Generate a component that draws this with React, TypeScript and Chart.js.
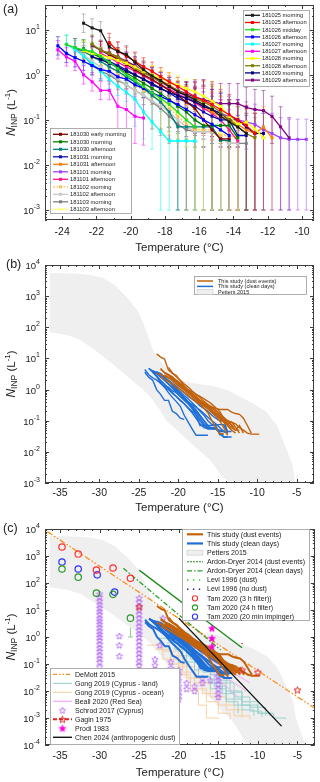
import React, { useEffect, useRef } from "react";
import { Chart, registerables } from "chart.js";
Chart.register(...registerables);

const FONT = "'Liberation Sans', Arial, Helvetica, sans-serif";
const INK = "#222222";

// ---------------- Panel (a) data ----------------
// temperature grid (°C) of the freezing spectra
const TEMP_GRID = [-24.25, -23.75, -23.25, -22.75, -22.25, -21.75, -21.25, -20.75, -20.25, -19.75, -19.25, -18.75, -18.25, -17.75, -17.25, -16.75, -16.25, -15.75, -15.25, -14.75, -14.25, -13.75, -13.25, -12.75, -12.25, -11.75, -11.25, -10.75, -10.25, -9.75];

// N_INP (L^-1); each list starts at TEMP_GRID[start]
const V_181025_MORNING = [14, 11, 9.5, 4.2, 3.3, 2.8, 1.9, 1.3, 0.95, 0.75, 0.55, 0.42, 0.35, 0.28, 0.22, 0.17, 0.12, 0.09, 0.07, 0.05];
const V_181025_AFTERNOON = [5.2, 3.4, 2.6, 2.0, 1.5, 1.2, 0.9, 0.7, 0.55, 0.42, 0.33, 0.27, 0.22, 0.17, 0.13, 0.1, 0.075, 0.05];
const V_181026_MIDDAY = [4.7, 4.0, 3.6, 3.3, 2.6, 1.9, 1.4, 1.0, 0.75, 0.55, 0.4, 0.3, 0.22, 0.15, 0.1, 0.07];
const V_181026_AFTERNOON = [4.4, 3.0, 2.4, 2.0, 1.6, 1.3, 1.2, 0.9, 0.8, 0.6, 0.5, 0.4, 0.33, 0.27, 0.22, 0.17, 0.13, 0.1, 0.08, 0.06, 0.045];
const V_181027_MORNING = [4.8, 3.6, 2.6, 1.8, 1.2, 0.8, 0.56, 0.41, 0.29, 0.15, 0.09, 0.055, 0.034, 0.034, 0.034, 0.034];
const V_181027_AFTERNOON = [3.6, 2.5, 2.0, 1.0, 0.7, 0.45, 0.45, 0.2, 0.17, 0.12, 0.11];
const V_181028_MORNING = [3.4, 3.0, 2.7, 2.4, 2.1, 1.8, 1.5, 1.2, 1.0, 0.85, 0.7, 0.6, 0.5, 0.42, 0.34, 0.26, 0.2, 0.12, 0.08, 0.09, 0.063, 0.04];
const V_181028_AFTERNOON = [4.8, 3.5, 3.0, 2.5, 1.9, 1.4, 1.1, 0.9, 0.7, 0.55, 0.45, 0.35, 0.3, 0.25, 0.2, 0.15, 0.1, 0.07, 0.05, 0.04];
const V_181029_MORNING = [2.5, 2.2, 1.8, 1.5, 1.2, 1.0, 0.8, 0.65, 0.5, 0.4, 0.35, 0.3, 0.25, 0.2, 0.17, 0.14, 0.1, 0.1, 0.07, 0.05, 0.05];
const V_181029_AFTERNOON = [4.5, 3.5, 3.0, 2.5, 2.0, 1.6, 1.2, 0.9, 0.7, 0.55, 0.45, 0.38, 0.32, 0.28, 0.25, 0.23, 0.23, 0.23, 0.19, 0.17, 0.16, 0.12, 0.07, 0.04];
const V_181030_EARLY = [3.5, 2.8, 2.2, 1.7, 1.3, 1.0, 0.8, 0.6, 0.45, 0.35, 0.25, 0.18, 0.1, 0.06, 0.038, 0.038];
const V_181030_MORNING = [3.8, 3.0, 2.4, 1.9, 1.4, 1.1, 0.85, 0.65, 0.5, 0.38, 0.28, 0.2, 0.15, 0.1, 0.075, 0.075, 0.075, 0.075, 0.04];
const V_181030_AFTERNOON = [4.0, 3.3, 2.6, 2.0, 1.5, 1.2, 0.9, 0.7, 0.5, 0.35, 0.25, 0.15, 0.07, 0.07, 0.07, 0.07, 0.07, 0.035, 0.035];
const V_181031_MORNING = [3.0, 2.5, 2.0, 1.6, 1.3, 1.0, 0.8, 0.6, 0.5, 0.4, 0.3, 0.25, 0.2, 0.15, 0.12, 0.1, 0.1, 0.045, 0.045];
const V_181031_AFTERNOON = [3.0, 2.4, 1.9, 1.5, 1.2, 0.95, 0.75, 0.6, 0.45, 0.35, 0.28, 0.2, 0.15, 0.12, 0.1, 0.08, 0.06, 0.05, 0.07, 0.04];
const V_181101_MORNING = [2.0, 1.5, 1.2, 0.9, 0.7, 0.55, 0.42, 0.33, 0.26, 0.2, 0.17, 0.14, 0.12, 0.1, 0.09, 0.08, 0.06, 0.05, 0.04, 0.037, 0.037, 0.037];
const V_181101_AFTERNOON = [3.0, 2.4, 1.9, 1.5, 1.2, 0.95, 0.75, 0.6, 0.48, 0.38, 0.3, 0.24, 0.18, 0.14, 0.1, 0.06, 0.034];
const V_181102_MORNING = [3.5, 2.5, 2.0, 1.5, 1.1, 0.8, 0.6, 0.45, 0.35, 0.25, 0.18, 0.12, 0.08, 0.06, 0.06, 0.06, 0.045, 0.045, 0.04];
const V_181102_AFTERNOON = [3.6, 2.8, 2.0, 1.5, 1.1, 0.8, 0.6, 0.45, 0.35, 0.26, 0.2, 0.15, 0.1, 0.07, 0.055, 0.055, 0.055, 0.04, 0.03, 0.03];
const V_181103_MORNING = [4.0, 2.8, 1.6, 1.2, 1.0, 0.75, 0.6, 0.45, 0.35, 0.25, 0.18, 0.12, 0.08, 0.06, 0.055, 0.055, 0.055, 0.04, 0.03, 0.03, 0.03];
const V_181103_AFTERNOON = [3.0, 2.5, 1.9, 1.4, 1.0, 0.75, 0.55, 0.4, 0.28, 0.2, 0.14, 0.1, 0.07, 0.055, 0.055, 0.05, 0.045, 0.04];

const SERIES_A = [
  { label: "181025 morning", color: "#1a1a1a", start: 3, values: V_181025_MORNING, group: "dust" },
  { label: "181025 afternoon", color: "#ff0000", start: 6, values: V_181025_AFTERNOON, group: "dust" },
  { label: "181026 midday", color: "#22dd22", start: 1, values: V_181026_MIDDAY, group: "clean" },
  { label: "181026 afternoon", color: "#0000ff", start: 0, values: V_181026_AFTERNOON, group: "clean" },
  { label: "181027 morning", color: "#00ffff", start: 1, values: V_181027_MORNING, group: "clean" },
  { label: "181027 afternoon", color: "#ff00ff", start: 0, values: V_181027_AFTERNOON, group: "clean" },
  { label: "181028 morning", color: "#ffff00", start: 3, values: V_181028_MORNING, group: "dust" },
  { label: "181028 afternoon", color: "#808000", start: 4, values: V_181028_AFTERNOON, group: "dust" },
  { label: "181029 morning", color: "#000080", start: 4, values: V_181029_MORNING, group: "dust" },
  { label: "181029 afternoon", color: "#800080", start: 4, values: V_181029_AFTERNOON, group: "dust" },
  { label: "181030 early morning", color: "#800000", start: 5, values: V_181030_EARLY, group: "dust" },
  { label: "181030 morning", color: "#008000", start: 3, values: V_181030_MORNING, group: "clean" },
  { label: "181030 afternoon", color: "#008080", start: 2, values: V_181030_AFTERNOON, group: "clean" },
  { label: "181031 morning", color: "#1010b0", start: 4, values: V_181031_MORNING, group: "clean" },
  { label: "181031 afternoon", color: "#ff8000", start: 6, values: V_181031_AFTERNOON, group: "dust" },
  { label: "181101 morning", color: "#a040ff", start: 8, values: V_181101_MORNING, group: "dust" },
  { label: "181101 afternoon", color: "#ff1493", start: 5, values: V_181101_AFTERNOON, group: "dust" },
  { label: "181102 morning", color: "#ffc060", start: 3, values: V_181102_MORNING, group: "clean", dash: [2, 1.5] },
  { label: "181102 afternoon", color: "#c8c8c8", start: 2, values: V_181102_AFTERNOON, group: "clean" },
  { label: "181103 morning", color: "#808080", start: 2, values: V_181103_MORNING, group: "clean" },
  { label: "181103 afternoon", color: "#ffff80", start: 4, values: V_181103_AFTERNOON, group: "clean" },
];

// ---------------- Panel (b)/(c) shared data ----------------
const PETTERS_UPPER_T = [-36.3, -33, -31, -29.5, -28, -26.5, -25, -24, -23.2, -22.2, -21, -19.4, -17.5, -15.6, -13.5, -12.2, -10.5, -8.8, -7.5, -6.8, -6, -5.5, -5.2, -4.6, -3.5];
const PETTERS_UPPER_V = [5500, 5300, 4700, 3800, 2200, 900, 300, 70, 18, 8, 3.5, 1.9, 1.5, 1.3, 0.9, 0.6, 0.35, 0.19, 0.07, 0.026, 0.008, 0.0035, 0.001, 0.0003, 0.00005];
const PETTERS_LOWER_T = [-36.3, -34, -32.5, -30.5, -28.7, -27, -25.8, -24.5, -23.6, -22.5, -21.5, -20, -18.9, -17.5, -16, -14.4, -13.5, -12.3, -11];
const PETTERS_LOWER_V = [70, 55, 40, 18, 8, 3.5, 1.9, 1.0, 0.6, 0.25, 0.1, 0.045, 0.025, 0.012, 0.0056, 0.0016, 0.001, 0.0003, 0.00005];

// ---------------- Panel (c) literature ----------------
const DEMOTT_T = [-36.6, -2.5];
const DEMOTT_V = [8000, 0.002];
const ARDON_DUST_T = [-25, -12];
const ARDON_DUST_V = [300, 0.4];
const ARDON_CLEAN_T = [-27, -14.7];
const ARDON_CLEAN_V = [350, 0.33];
const CHEN_T = [-20, -7];
const CHEN_V = [5, 0.0005];

const TAM_T = [-34.75, -32.7, -30.4, -28.3, -26.1];
const TAM_3H_V = [2150, 1180, 300, 360, 150];
const TAM_3H_LO = [1400, 700, 150, 230, 12];
const TAM_3H_HI = [3300, 1800, 470, 550, 400];
const TAM_24H_V = [330, 165, 42, 38, 5];
const TAM_24H_LO = [230, 120, 25, 20, 1];
const TAM_24H_HI = [430, 210, 65, 55, 16];
const TAM_IMP_T = [-34.75, -32.7, -30.3, -28.1];
const TAM_IMP_V = [600, 330, 200, 46];
const TAM_IMP_LO = [450, 250, 140, 20];
const TAM_IMP_HI = [800, 420, 300, 85];

const GAGIN_T = [-25, -12, -10, -5];
const GAGIN_V = [13, 0.06, 0.05, 0.011];
const GAGIN_LO = [null, 0.015, 0.004, null];
const GAGIN_HI = [null, 0.6, 0.25, null];

const PRODI_T = [-15.8, -15.8, -15.8];
const PRODI_V = [2.1, 0.9, 0.45];

const SCHROD_T = [
  -30, -30, -30, -30, -30, -30, -30, -30, -30, -30, -30, -30, -30, -30, -30, -30, -30, -30, -30, -30, -30, -30,
  -25, -25, -25, -25, -25, -25, -25, -25, -25, -25, -25, -25, -25, -25, -25, -25, -25, -25, -25, -25,
  -27.5, -27.5, -27.5, -22, -22.4, -23, -23, -23, -21, -21,
  -20, -20, -20, -20, -20, -20, -20, -19, -19, -18, -18, -17, -17, -16,
  -15, -15, -15, -15, -15, -15, -15,
];
const SCHROD_V = [
  40, 30, 22, 16, 12, 9, 7, 5, 4, 3, 2.3, 1.7, 1.3, 1, 0.75, 0.55, 0.4, 0.3, 0.22, 0.16, 0.12, 0.08,
  28, 20, 14, 10, 7, 5, 3.5, 2.5, 1.8, 1.3, 1, 0.7, 0.5, 0.35, 0.25, 0.18, 0.12, 0.09, 0.06, 0.04,
  1.1, 0.5, 0.2, 5, 0.5, 0.15, 0.09, 0.06, 0.12, 0.07,
  0.06, 0.04, 0.025, 0.015, 0.01, 0.007, 0.005, 0.02, 0.012, 0.015, 0.01, 0.03, 0.02, 0.025,
  0.05, 0.035, 0.025, 0.018, 0.012, 0.008, 0.006,
];

const GONG_LAND = [
  [[-22, 1.5], [-20, 0.5], [-18, 0.15], [-16, 0.04], [-14, 0.01], [-12, 0.004], [-10, 0.0015], [-8, 0.001], [-6.5, 0.0009]],
  [[-21, 0.8], [-19, 0.3], [-17, 0.08], [-15, 0.02], [-13, 0.006], [-11, 0.0025], [-9, 0.0012]],
  [[-20, 0.4], [-18.5, 0.15], [-17, 0.05], [-15.5, 0.015], [-14, 0.005], [-12, 0.002], [-10.5, 0.0012]],
  [[-21.5, 0.6], [-19.5, 0.2], [-18, 0.06], [-16, 0.02], [-14.5, 0.008], [-13, 0.003], [-11, 0.0018], [-9.5, 0.0011]],
  [[-22.5, 0.9], [-20.5, 0.35], [-19, 0.12], [-17.5, 0.035], [-16, 0.012], [-14, 0.004], [-12.5, 0.0015]],
  [[-19, 0.25], [-17, 0.07], [-15, 0.025], [-13.5, 0.009], [-12, 0.003], [-10, 0.0015], [-8.5, 0.0012]],
];
const GONG_OCEAN = [
  [[-24, 0.5], [-22, 0.15], [-20, 0.04], [-18.5, 0.01], [-17.5, 0.003], [-16.5, 0.001], [-15, 0.0009]],
  [[-23, 0.35], [-21, 0.1], [-19, 0.03], [-17, 0.008], [-15, 0.003], [-13, 0.0012], [-11, 0.0009]],
  [[-22, 0.3], [-20, 0.08], [-18, 0.02], [-16, 0.006], [-14, 0.002], [-12, 0.001]],
  [[-21, 0.2], [-19.5, 0.05], [-18, 0.012], [-16.5, 0.004], [-15, 0.0015], [-13.5, 0.0009]],
];
const BEALL = [
  [[-20, 1], [-18, 0.4], [-16, 0.15], [-14, 0.06], [-12, 0.03], [-11, 0.02]],
  [[-19, 0.5], [-17, 0.15], [-15, 0.05], [-13, 0.02], [-11.5, 0.01]],
  [[-18, 0.2], [-16, 0.05], [-14, 0.015], [-12.5, 0.006]],
];

// ticks
const X_TICKS_A = [-24, -22, -20, -18, -16, -14, -12, -10];
const X_TICKS_BC = [-35, -30, -25, -20, -15, -10, -5];
const Y_EXP_A = [1, 0, -1, -2, -3];
const Y_EXP_B = [4, 3, 2, 1, 0, -1, -2, -3];
const Y_EXP_C = [4, 3, 2, 1, 0, -1, -2, -3, -4];

const DUST_COLOR = "#c2620c";
const CLEAN_COLOR = "#1f6fd6";

// ---------------- helpers ----------------
function rgba(hex: string, a: number) {
  const h = hex.replace("#", "");
  const r = parseInt(h.slice(0, 2), 16), g = parseInt(h.slice(2, 4), 16), b = parseInt(h.slice(4, 6), 16);
  return `rgba(${r},${g},${b},${a})`;
}
function seriesPts(start: number, vals: number[]) {
  return vals.map((v, i) => ({ x: TEMP_GRID[start + i], y: v }));
}
function pairPts(ts: number[], vs: number[]) {
  return ts.map((t, i) => ({ x: t, y: vs[i] }));
}
function tuplePts(arr: number[][]) {
  return arr.map((p) => ({ x: p[0], y: p[1] }));
}
function makeStar(r: number, stroke: string, fill: string | null, lw: number) {
  const s = Math.ceil(2 * r + lw + 2);
  const c = document.createElement("canvas");
  c.width = s; c.height = s;
  const g = c.getContext("2d")!;
  g.beginPath();
  for (let i = 0; i < 10; i++) {
    const ang = -Math.PI / 2 + (i * Math.PI) / 5;
    const rr = i % 2 === 0 ? r : r * 0.45;
    const px = s / 2 + rr * Math.cos(ang), py = s / 2 + 0.4 + rr * Math.sin(ang);
    if (i === 0) g.moveTo(px, py); else g.lineTo(px, py);
  }
  g.closePath();
  if (fill) { g.fillStyle = fill; g.fill(); }
  g.strokeStyle = stroke; g.lineWidth = lw; g.stroke();
  return c;
}

const errorBarPlugin = {
  id: "errbars",
  beforeDatasetsDraw(chart: any) {
    const { ctx, chartArea: a } = chart;
    const y = chart.scales.y;
    ctx.save();
    ctx.beginPath();
    ctx.rect(a.left, a.top, a.right - a.left, a.bottom - a.top);
    ctx.clip();
    chart.data.datasets.forEach((ds: any, i: number) => {
      if (!ds.errLo) return;
      const meta = chart.getDatasetMeta(i);
      ctx.strokeStyle = ds.errColor;
      ctx.lineWidth = ds.errWidth || 1;
      ctx.setLineDash(ds.errDash || []);
      meta.data.forEach((el: any, j: number) => {
        const lo = ds.errLo[j], hi = ds.errHi[j];
        if (lo == null || hi == null) return;
        const px = el.x;
        const y1 = y.getPixelForValue(lo), y2 = y.getPixelForValue(hi);
        ctx.beginPath();
        ctx.moveTo(px, y1); ctx.lineTo(px, y2);
        const c = ds.errCap ?? 2;
        if (c) {
          ctx.moveTo(px - c, y1); ctx.lineTo(px + c, y1);
          ctx.moveTo(px - c, y2); ctx.lineTo(px + c, y2);
        }
        ctx.stroke();
      });
    });
    ctx.restore();
  },
};

function drawSample(ctx: CanvasRenderingContext2D, it: any, x0: number, x1: number, y: number) {
  ctx.save();
  if (it.kind === "patch") {
    ctx.fillStyle = "#efefef";
    ctx.fillRect(x0, y - 2.5, x1 - x0, 5);
    ctx.strokeStyle = "#c8c8c8"; ctx.lineWidth = 0.6;
    ctx.strokeRect(x0, y - 2.5, x1 - x0, 5);
  }
  if (it.line) {
    ctx.strokeStyle = it.color; ctx.lineWidth = it.width || 1.2;
    ctx.setLineDash(it.dash || []);
    ctx.beginPath(); ctx.moveTo(x0, y); ctx.lineTo(x1, y); ctx.stroke();
    ctx.setLineDash([]);
  }
  const xm = (x0 + x1) / 2;
  if (it.marker === "rect") {
    ctx.fillStyle = it.color; ctx.fillRect(xm - 1.5, y - 1.5, 3, 3);
  } else if (it.marker === "circle") {
    ctx.strokeStyle = it.color; ctx.lineWidth = 1.1;
    ctx.beginPath(); ctx.arc(xm, y, 2.6, 0, Math.PI * 2); ctx.stroke();
  } else if (it.marker && typeof it.marker === "object") {
    const im = it.marker as HTMLCanvasElement;
    ctx.drawImage(im, xm - im.width / 2, y - im.height / 2);
  }
  ctx.restore();
}

function drawLegend(ctx: CanvasRenderingContext2D, L: any) {
  ctx.save();
  ctx.fillStyle = "#ffffff";
  ctx.fillRect(L.x, L.y, L.w, L.h);
  ctx.strokeStyle = "#9a9a9a"; ctx.lineWidth = 0.8;
  ctx.strokeRect(L.x + 0.5, L.y + 0.5, L.w - 1, L.h - 1);
  L.items.forEach((it: any, i: number) => {
    const y = L.y0 + i * L.dy;
    drawSample(ctx, it, L.sx0, L.sx1, y);
    ctx.fillStyle = INK;
    ctx.font = `${L.fs}px ${FONT}`;
    ctx.textAlign = "left"; ctx.textBaseline = "middle";
    ctx.fillText(it.label, L.tx, y + 0.3);
  });
  ctx.restore();
}

function decor(spec: any) {
  return {
    id: "decor",
    afterDraw(chart: any) {
      const { ctx, chartArea: a } = chart;
      const x = chart.scales.x, y = chart.scales.y;
      ctx.save();
      ctx.setLineDash([]);
      ctx.strokeStyle = "#3c3c3c"; ctx.lineWidth = 1;
      ctx.strokeRect(Math.round(a.left) + 0.5, Math.round(a.top) + 0.5, Math.round(a.right - a.left) - 1, Math.round(a.bottom - a.top) - 1);
      // x ticks
      const xmin = x.min, xmax = x.max;
      ctx.beginPath();
      for (let t = Math.ceil(xmin); t <= xmax; t += spec.xMinorStep) {
        const major = spec.xMajor.includes(t);
        const len = major ? 4 : 2;
        const px = Math.round(x.getPixelForValue(t)) + 0.5;
        ctx.moveTo(px, a.bottom); ctx.lineTo(px, a.bottom - len);
        ctx.moveTo(px, a.top); ctx.lineTo(px, a.top + len);
      }
      // y ticks
      const e0 = Math.floor(Math.log10(y.min)), e1 = Math.ceil(Math.log10(y.max));
      for (let e = e0; e <= e1; e++) {
        for (let m = 1; m <= 9; m++) {
          const v = m * Math.pow(10, e);
          if (v < y.min * 0.999 || v > y.max * 1.001) continue;
          const len = m === 1 ? 4 : 2;
          const py = Math.round(y.getPixelForValue(v)) + 0.5;
          ctx.moveTo(a.left, py); ctx.lineTo(a.left + len, py);
          ctx.moveTo(a.right, py); ctx.lineTo(a.right - len, py);
        }
      }
      ctx.stroke();
      // x tick labels
      ctx.fillStyle = INK;
      ctx.font = `10.5px ${FONT}`;
      ctx.textAlign = "center"; ctx.textBaseline = "middle";
      spec.xMajor.forEach((t: number) => {
        ctx.fillText(String(t), x.getPixelForValue(t), spec.xLabelY);
      });
      // y tick labels 10^n
      spec.yExps.forEach((e: number) => {
        const py = y.getPixelForValue(Math.pow(10, e));
        ctx.font = `9.5px ${FONT}`;
        const wb = ctx.measureText("10").width;
        ctx.font = `7px ${FONT}`;
        const sup = String(e);
        const ws = ctx.measureText(sup).width;
        const x0 = a.left - 5 - wb - ws;
        ctx.textAlign = "left"; ctx.textBaseline = "alphabetic";
        ctx.font = `9.5px ${FONT}`;
        ctx.fillText("10", x0, py + 4);
        ctx.font = `7px ${FONT}`;
        ctx.fillText(sup, x0 + wb, py - 1);
      });
      // x title
      ctx.font = `11.5px ${FONT}`;
      ctx.textAlign = "center"; ctx.textBaseline = "middle";
      ctx.fillText("Temperature (\u00B0C)", (a.left + a.right) / 2, spec.xTitleY);
      // y title (rotated)
      const cy = (a.top + a.bottom) / 2;
      const parts = [
        { t: "N", f: `italic 12px ${FONT}`, dy: 0 },
        { t: "INP", f: `8.5px ${FONT}`, dy: 3 },
        { t: " (L", f: `11.5px ${FONT}`, dy: 0 },
        { t: "-1", f: `8px ${FONT}`, dy: -4.5 },
        { t: ")", f: `11.5px ${FONT}`, dy: 0 },
      ];
      let tw = 0;
      parts.forEach((p) => { ctx.font = p.f; tw += ctx.measureText(p.t).width; });
      ctx.save();
      ctx.translate(spec.yTitleX, cy);
      ctx.rotate(-Math.PI / 2);
      ctx.textAlign = "left"; ctx.textBaseline = "middle";
      let cx = -tw / 2;
      parts.forEach((p) => {
        ctx.font = p.f;
        ctx.fillText(p.t, cx, p.dy);
        cx += ctx.measureText(p.t).width;
      });
      ctx.restore();
      // panel letter
      ctx.font = `12.5px ${FONT}`;
      ctx.textAlign = "left"; ctx.textBaseline = "middle";
      ctx.fillText(spec.letter, spec.letterX, spec.letterY);
      // legends
      spec.legends.forEach((L: any) => drawLegend(ctx, L));
      ctx.restore();
    },
  };
}

function baseOptions(pad: any, xmin: number, xmax: number, ymin: number, ymax: number) {
  return {
    animation: false,
    responsive: false,
    maintainAspectRatio: false,
    events: [],
    layout: { padding: pad },
    plugins: { legend: { display: false }, tooltip: { enabled: false } },
    elements: { line: { tension: 0 } },
    scales: {
      x: { type: "linear", min: xmin, max: xmax, display: false },
      y: { type: "logarithmic", min: ymin, max: ymax, display: false },
    },
  };
}

function pettersDataset(order: number) {
  const poly = pairPts(PETTERS_UPPER_T, PETTERS_UPPER_V).concat(pairPts(PETTERS_LOWER_T, PETTERS_LOWER_V).reverse());
  return {
    label: "Petters 2015",
    data: poly,
    borderWidth: 0,
    borderColor: "rgba(0,0,0,0)",
    backgroundColor: "#efefef",
    fill: "shape",
    pointRadius: 0,
    order,
  };
}

function studyDatasets(width: number, order: number) {
  const clean = SERIES_A.filter((s) => s.group === "clean").map((s) => ({
    label: "clean " + s.label, data: seriesPts(s.start, s.values), borderColor: CLEAN_COLOR,
    borderWidth: width, pointRadius: 0, fill: false, order: order + 1,
  }));
  const dust = SERIES_A.filter((s) => s.group === "dust").map((s) => ({
    label: "dust " + s.label, data: seriesPts(s.start, s.values), borderColor: DUST_COLOR,
    borderWidth: width, pointRadius: 0, fill: false, order,
  }));
  return [...clean, ...dust];
}

function buildA() {
  const datasets = SERIES_A.map((s, i) => {
    const data = seriesPts(s.start, s.values);
    return {
      label: s.label,
      data,
      borderColor: s.color,
      backgroundColor: s.color,
      borderWidth: 1.3,
      borderDash: s.dash || [],
      pointStyle: "rect",
      pointRadius: 2.1,
      pointBorderWidth: 0,
      fill: false,
      order: i,
      errLo: s.values.map((v) => (v >= 0.3 ? v / 1.6 : v >= 0.09 ? v / 4 : 0.001)),
      errHi: s.values.map((v) => (v >= 0.3 ? v * 1.6 : v * 2.8)),
      errColor: rgba(s.color === "#1a1a1a" ? "#808080" : s.color, 0.5),
      errCap: 2,
    };
  });
  const items = SERIES_A.map((s) => ({ label: s.label, line: true, color: s.color, width: 1.3, dash: s.dash, marker: "rect" }));
  const spec = {
    letter: "(a)", letterX: 3, letterY: 10,
    xMajor: X_TICKS_A, xMinorStep: 1, yExps: Y_EXP_A,
    xLabelY: 232, xTitleY: 248, yTitleX: 12,
    legends: [
      { x: 243, y: 10, w: 67, h: 77, y0: 15.3, dy: 7.2, sx0: 245, sx1: 260, tx: 262, fs: 5.7, items: items.slice(0, 10) },
      { x: 50, y: 128, w: 82, h: 86, y0: 134.3, dy: 7.5, sx0: 53, sx1: 68, tx: 70, fs: 5.8, items: items.slice(10) },
    ],
  };
  return {
    type: "line",
    data: { datasets },
    options: baseOptions({ left: 45, right: 6, top: 5, bottom: 35 }, -25, -9.3, Math.pow(10, -3.2), Math.pow(10, 1.55)),
    plugins: [errorBarPlugin, decor(spec)],
  };
}

function buildB() {
  const datasets = [pettersDataset(100), ...studyDatasets(1.4, 10)];
  const spec = {
    letter: "(b)", letterX: 6, letterY: 10,
    xMajor: X_TICKS_BC, xMinorStep: 1, yExps: Y_EXP_B,
    xLabelY: 238, xTitleY: 253, yTitleX: 12,
    legends: [
      {
        x: 194, y: 21, w: 113, h: 19, y0: 26, dy: 5.4, sx0: 197, sx1: 213, tx: 218, fs: 5.5,
        items: [
          { label: "This study (dust events)", line: true, color: DUST_COLOR, width: 1.5 },
          { label: "This study (clean days)", line: true, color: CLEAN_COLOR, width: 1.5 },
          { label: "Petters 2015", kind: "patch" },
        ],
      },
    ],
  };
  return {
    type: "line",
    data: { datasets },
    options: baseOptions({ left: 45, right: 6, top: 10, bottom: 32 }, -36.9, -2.8, 1e-3, 1e4),
    plugins: [decor(spec)],
  };
}

function buildC() {
  const violetStar = makeStar(3.4, "#b46cf5", null, 0.9);
  const redStar = makeStar(3.6, "#e82020", null, 1.0);
  const magStar = makeStar(3.6, "#ff00dd", "#ff00dd", 0.6);
  const lineDs = (label: string, data: any[], color: string, width: number, dash: number[], order: number, stepped = false) => ({
    label, data, borderColor: color, borderWidth: width, borderDash: dash, pointRadius: 0, fill: false, order, stepped,
  });
  const scatterDs = (label: string, data: any[], style: any, order: number, extra: any = {}) => ({
    label, data, showLine: false, pointStyle: style, pointRadius: 3.2, order, ...extra,
  });
  const datasets: any[] = [
    pettersDataset(100),
    ...GONG_LAND.map((l, i) => lineDs("Gong land " + i, tuplePts(l), "#93cfcb", 0.9, [], 90, true)),
    ...GONG_OCEAN.map((l, i) => lineDs("Gong ocean " + i, tuplePts(l), "#f6cd98", 0.9, [], 91, true)),
    ...BEALL.map((l, i) => lineDs("Beall " + i, tuplePts(l), "#f3a8f3", 1.0, [], 88)),
    scatterDs("Schrod 2017 (Cyprus)", pairPts(SCHROD_T, SCHROD_V), violetStar, 80),
    lineDs("DeMott 2015", pairPts(DEMOTT_T, DEMOTT_V), "#ff8c1a", 1.3, [6, 2, 1.5, 2, 1.5, 2], 70),
    lineDs("Ardon-Dryer 2014 (dust events)", pairPts(ARDON_DUST_T, ARDON_DUST_V), "#1e8a1e", 1.3, [], 65),
    lineDs("Ardon-Dryer 2014 (clean days)", pairPts(ARDON_CLEAN_T, ARDON_CLEAN_V), "#2aa02a", 1.3, [5, 2, 1.5, 2], 66),
    scatterDs("Tam 2020 (3 h filter)", pairPts(TAM_T, TAM_3H_V), "circle", 60, {
      borderColor: "#ff3030", backgroundColor: "rgba(0,0,0,0)", pointBorderWidth: 1.2,
      errLo: TAM_3H_LO, errHi: TAM_3H_HI, errColor: "#f49090", errCap: 2.5,
    }),
    scatterDs("Tam 2020 (24 h filter)", pairPts(TAM_T, TAM_24H_V), "circle", 61, {
      borderColor: "#2a9a2a", backgroundColor: "rgba(0,0,0,0)", pointBorderWidth: 1.2,
      errLo: TAM_24H_LO, errHi: TAM_24H_HI, errColor: "#8ccc8c", errCap: 2.5,
    }),
    scatterDs("Tam 2020 (20 min impinger)", pairPts(TAM_IMP_T, TAM_IMP_V), "circle", 62, {
      borderColor: "#3030ff", backgroundColor: "rgba(0,0,0,0)", pointBorderWidth: 1.2,
      errLo: TAM_IMP_LO, errHi: TAM_IMP_HI, errColor: "#9090f4", errCap: 2.5,
    }),
    ...studyDatasets(2.0, 30),
    lineDs("Chen 2024 (anthropogenic dust)", pairPts(CHEN_T, CHEN_V), "#111111", 1.4, [], 20),
    scatterDs("Gagin 1975", pairPts(GAGIN_T, GAGIN_V), redStar, 10, {
      errLo: GAGIN_LO, errHi: GAGIN_HI, errColor: "#e82020", errWidth: 2, errDash: [4, 3], errCap: 0,
    }),
    scatterDs("Prodi 1983", pairPts(PRODI_T, PRODI_V), magStar, 5),
  ];
  const spec = {
    letter: "(c)", letterX: 3, letterY: 14,
    xMajor: X_TICKS_BC, xMinorStep: 1, yExps: Y_EXP_C,
    xLabelY: 241, xTitleY: 258, yTitleX: 12,
    legends: [
      {
        x: 182, y: 14, w: 128, h: 92, y0: 19.3, dy: 9.15, sx0: 187, sx1: 203, tx: 207, fs: 7,
        items: [
          { label: "This study (dust events)", line: true, color: DUST_COLOR, width: 2.2 },
          { label: "This study (clean days)", line: true, color: CLEAN_COLOR, width: 2.2 },
          { label: "Petters 2015", kind: "patch" },
          { label: "Ardon-Dryer 2014 (dust events)", line: true, color: "#1e8a1e", width: 1.2, dash: [2, 1] },
          { label: "Ardon-Dryer 2014 (clean days)", line: true, color: "#2aa02a", width: 1.2, dash: [5, 2, 1.5, 2] },
          { label: "Levi 1996 (dust)", line: true, color: "#33cc33", width: 1.6, dash: [1.4, 4.5] },
          { label: "Levi 1996 (no dust)", line: true, color: "#1a1a99", width: 1.6, dash: [1.4, 4.5] },
          { label: "Tam 2020 (3 h filter))", marker: "circle", color: "#ff3030" },
          { label: "Tam 2020 (24 h filter)", marker: "circle", color: "#2a9a2a" },
          { label: "Tam 2020 (20 min impinger)", marker: "circle", color: "#3030ff" },
        ],
      },
      {
        x: 50, y: 153, w: 130, h: 77, y0: 159.3, dy: 9, sx0: 53, sx1: 72, tx: 75, fs: 7,
        items: [
          { label: "DeMott 2015", line: true, color: "#ff8c1a", width: 1.3, dash: [4, 2, 1.5, 2, 1.5, 2] },
          { label: "Gong 2019 (Cyprus - land)", line: true, color: "#93cfcb", width: 1 },
          { label: "Gong 2019 (Cyprus - ocean)", line: true, color: "#f6cd98", width: 1 },
          { label: "Beall 2020 (Red Sea)", line: true, color: "#f3a8f3", width: 1.2 },
          { label: "Schrod 2017 (Cyprus)", marker: violetStar },
          { label: "Gagin 1975", line: true, color: "#e82020", width: 2, dash: [4, 2], marker: redStar },
          { label: "Prodi 1983", marker: magStar },
          { label: "Chen 2024 (anthropogenic dust)", line: true, color: "#111111", width: 1.4 },
        ],
      },
    ],
  };
  return {
    type: "line",
    data: { datasets },
    options: baseOptions({ left: 45, right: 5, top: 14, bottom: 37 }, -36.9, -2.8, 1e-4, 1e4),
    plugins: [errorBarPlugin, decor(spec)],
  };
}

export default function App() {
  const ra = useRef<HTMLCanvasElement>(null);
  const rb = useRef<HTMLCanvasElement>(null);
  const rc = useRef<HTMLCanvasElement>(null);
  useEffect(() => {
    const charts = [
      new Chart(ra.current as any, buildA() as any),
      new Chart(rb.current as any, buildB() as any),
      new Chart(rc.current as any, buildC() as any),
    ];
    return () => charts.forEach((c) => c.destroy());
  }, []);
  const cs = (top: number, h: number): React.CSSProperties => ({ position: "absolute", left: 0, top, width: 320, height: h, display: "block" });
  return (
    <div style={{ position: "absolute", left: 0, top: 0, width: 320, height: 782, background: "#ffffff", overflow: "hidden" }}>
      <canvas ref={ra} width={320} height={255} style={cs(0, 255)} />
      <canvas ref={rb} width={320} height={260} style={cs(255, 260)} />
      <canvas ref={rc} width={320} height={267} style={cs(515, 267)} />
    </div>
  );
}
